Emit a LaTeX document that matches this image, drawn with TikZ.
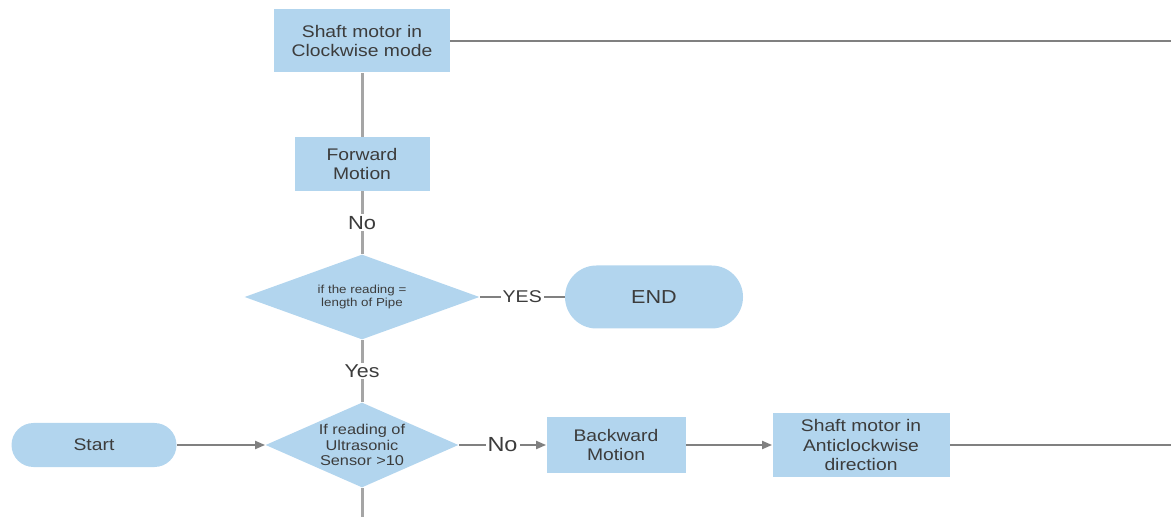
\documentclass[tikz,border=0pt]{standalone}
\usepackage{fontspec}
\setmainfont{Liberation Sans}[FakeStretch=1.15]
\usetikzlibrary{shapes.geometric,arrows.meta}
\definecolor{boxblue}{RGB}{178,213,238}
\definecolor{txtgray}{RGB}{60,60,60}
\definecolor{linegray}{RGB}{128,128,128}
\definecolor{vgray}{RGB}{165,165,165}
\begin{document}
\begin{tikzpicture}[x=0.5pt,y=-0.5pt,
	every node/.style={text=txtgray,font=\fontsize{8.4pt}{9.6pt}\selectfont,align=center},
	stepbox/.style={rectangle,fill=boxblue,inner sep=0pt},
	termbox/.style={rectangle,fill=boxblue,inner sep=0pt},
	choice/.style={diamond,fill=boxblue,inner sep=0pt,aspect=2.5},
	lbl/.style={fill=white,inner sep=1pt},
	hline/.style={draw=linegray,line width=1pt},
	vline/.style={draw=vgray,line width=1.5pt},
	arr/.style={hline,-{Triangle[length=5pt,width=4pt]}}]
	\useasboundingbox (0,0) rectangle (1171,517);
	% boxes
	\node[stepbox,minimum width=88pt,minimum height=31.5pt] (cw) at (362,41) {Shaft motor in\\Clockwise mode};
	\node[stepbox,minimum width=67.5pt,minimum height=27pt] (fwd) at (362,164) {Forward\\Motion};
	\node[choice,minimum width=117.5pt,minimum height=42.5pt,font=\fontsize{5.8pt}{6.6pt}\selectfont] (chk1) at (362,297) {if the reading =\\length of Pipe};
	\node[termbox,rounded corners=15.75pt,minimum width=89pt,minimum height=31.5pt,font=\fontsize{9.4pt}{10pt}\selectfont] (end) at (654,297) {END};
	\node[termbox,rounded corners=11pt,minimum width=82.5pt,minimum height=22pt] (start) at (94,445) {Start};
	\node[choice,minimum width=96.5pt,minimum height=42.5pt,font=\fontsize{7.1pt}{7.8pt}\selectfont] (chk2) at (362,445) {If reading of\\Ultrasonic\\Sensor >10};
	\node[stepbox,minimum width=69.5pt,minimum height=27.5pt] (back) at (616,445) {Backward\\Motion};
	\node[stepbox,minimum width=88.5pt,minimum height=32pt] (acw) at (861,445) {Shaft motor in\\Anticlockwise\\direction};
	\coordinate (cwend) at (1171,41);
	\coordinate (acwend) at (1171,445);
	\coordinate (chk2end) at (362,517);
	% connectors
	\draw[hline] (cw.east) -- (cwend);
	\draw[vline] (cw.south) -- (fwd.north);
	\draw[vline] (fwd.south) -- node[lbl,font=\fontsize{9.5pt}{10pt}\selectfont] {No} (chk1.north);
	\draw[vline] (chk1.south) -- node[lbl,font=\fontsize{9.3pt}{10pt}\selectfont] {Yes} (chk2.north);
	\draw[hline] (chk1.east) -- node[lbl,font=\fontsize{8.5pt}{9pt}\selectfont] {YES} (end.west);
	\draw[arr] (start.east) -- (chk2.west);
	\draw[arr] (chk2.east) -- node[lbl,font=\fontsize{10.2pt}{11pt}\selectfont] {No} (back.west);
	\draw[arr] (back.east) -- (acw.west);
	\draw[hline] (acw.east) -- (acwend);
	\draw[vline] (chk2.south) -- (chk2end);
\end{tikzpicture}
\end{document}
